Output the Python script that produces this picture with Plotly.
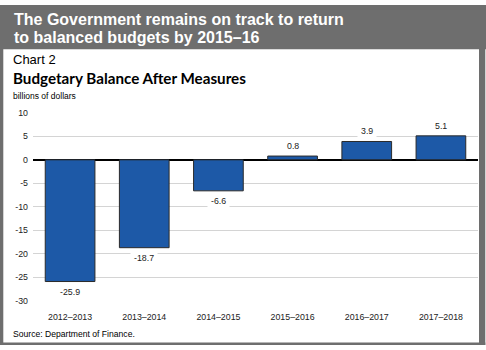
import plotly.graph_objects as go

categories = ["2012–2013", "2013–2014", "2014–2015", "2015–2016", "2016–2017", "2017–2018"]
balance = [-25.9, -18.7, -6.6, 0.8, 3.9, 5.1]
labels = ["-25.9", "-18.7", "-6.6", "0.8", "3.9", "5.1"]
y_ticks = [10, 5, 0, -5, -10, -15, -20, -25, -30]

W, H = 486, 350
PL, PR, PT, PB = 33, 478, 111, 304.5

def px(x):
    return x / W

def py(y):
    return 1 - y / H

fig = go.Figure()
fig.add_trace(go.Bar(
    x=categories, y=balance,
    marker=dict(color="#1d59a7", line=dict(color="#2a2a2a", width=1)),
    width=0.67,
    hoverinfo="skip",
))

annotations = []
for c, v, t in zip(categories, balance, labels):
    annotations.append(dict(
        x=c, y=v, xref="x", yref="y", text=t, showarrow=False,
        yshift=10 if v >= 0 else -10,
        font=dict(family="Liberation Sans, Arial", size=8.8, color="#222222"),
        bgcolor="white", borderpad=3,
    ))

FONT = "Liberation Sans, Arial"
annotations += [
    dict(x=px(12), y=py(15), xref="paper", yref="paper", xanchor="left", yanchor="middle",
         text="<b>The Government remains on track to return</b>", showarrow=False,
         font=dict(family=FONT, size=16, color="white")),
    dict(x=px(12), y=py(33.5), xref="paper", yref="paper", xanchor="left", yanchor="middle",
         text="<b>to balanced budgets by 2015–16</b>", showarrow=False,
         font=dict(family=FONT, size=16, color="white")),
    dict(x=px(11), y=py(56), xref="paper", yref="paper", xanchor="left", yanchor="middle",
         text="Chart 2", showarrow=False,
         font=dict(family=FONT, size=13, color="black")),
    dict(x=px(11), y=py(75), xref="paper", yref="paper", xanchor="left", yanchor="middle",
         text="<b>Budgetary Balance After Measures</b>", showarrow=False,
         font=dict(family="Lato", size=15.2, color="black")),
    dict(x=px(11), y=py(93.5), xref="paper", yref="paper", xanchor="left", yanchor="middle",
         text="billions of dollars", showarrow=False,
         font=dict(family=FONT, size=8.5, color="black")),
    dict(x=px(11), y=py(338.5), xref="paper", yref="paper", xanchor="left", yanchor="middle",
         text="Source: Department of Finance.", showarrow=False,
         font=dict(family=FONT, size=8.6, color="black")),
]

border = "#6e6e6e"
shapes = [
    dict(type="rect", xref="paper", yref="paper", x0=0, x1=1, y0=py(45.5), y1=1,
         fillcolor=border, line=dict(width=0), layer="below"),
    dict(type="rect", xref="paper", yref="paper", x0=0, x1=px(3.3), y0=0, y1=1,
         fillcolor=border, line=dict(width=0), layer="below"),
    dict(type="rect", xref="paper", yref="paper", x0=px(479), x1=px(485.3), y0=0, y1=1,
         fillcolor=border, line=dict(width=0), layer="below"),
    dict(type="rect", xref="paper", yref="paper", x0=0, x1=px(485.3), y0=0, y1=py(347.5),
         fillcolor=border, line=dict(width=0), layer="below"),
]

fig.update_layout(
    width=W, height=H,
    margin=dict(l=0, r=0, t=0, b=0),
    paper_bgcolor="white", plot_bgcolor="white",
    showlegend=False,
    bargap=0.33,
    annotations=annotations,
    shapes=shapes,
    xaxis=dict(
        domain=[px(PL), px(PR)],
        tickfont=dict(family=FONT, size=8.8, color="#222222"),
        showgrid=False, showline=False, ticks="",
        ticklabelstandoff=9,
        fixedrange=True,
    ),
    yaxis=dict(
        domain=[py(PB), py(PT)],
        range=[-30, 10],
        tickvals=y_ticks,
        ticktext=[str(v) for v in y_ticks],
        tickfont=dict(family=FONT, size=8.8, color="#222222"),
        showgrid=True, gridcolor="#d4d4d4", gridwidth=1,
        zeroline=True, zerolinecolor="black", zerolinewidth=1.5,
        showline=False, ticks="",
        ticklabelstandoff=4,
        fixedrange=True,
    ),
)

fig.write_html("out.html")
